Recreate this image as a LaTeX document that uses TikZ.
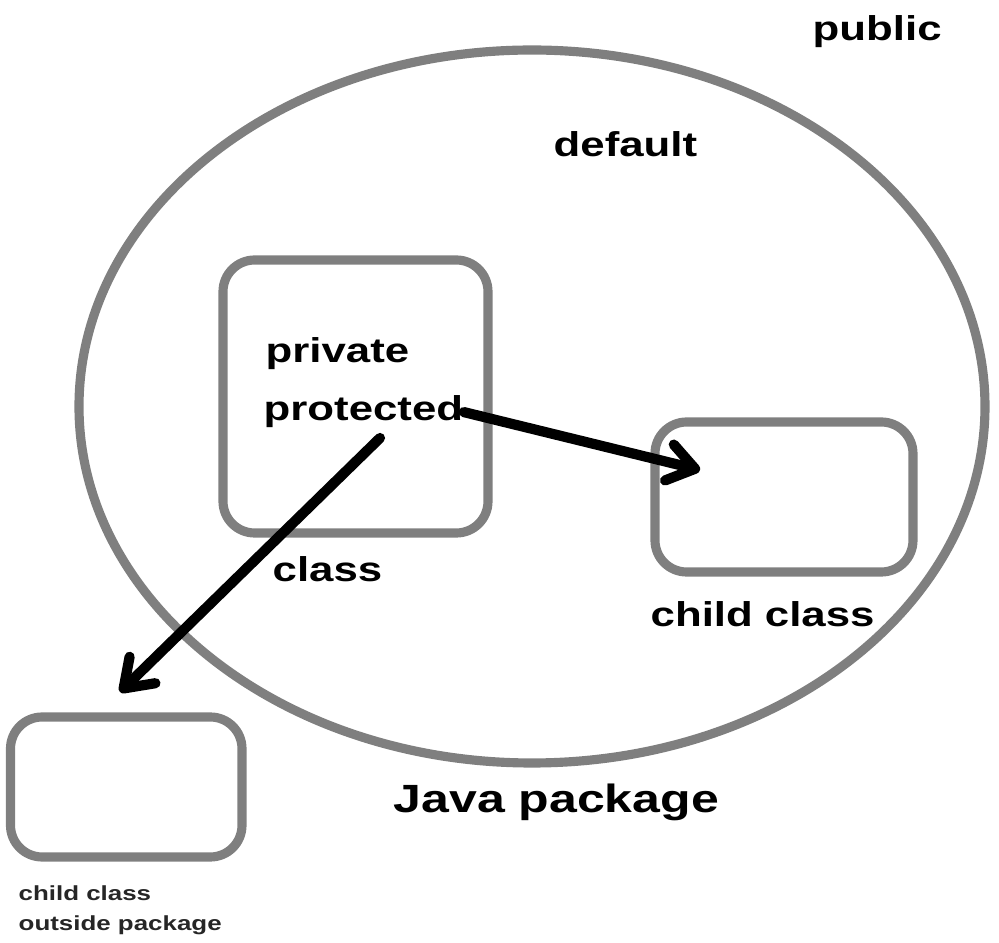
\documentclass[tikz,border=0pt]{standalone}
\usepackage{fontspec}
\setmainfont{Liberation Sans}
\usetikzlibrary{arrows.meta}
\newcommand{\wide}[1]{\scalebox{1.27}[1]{#1}}

\begin{document}
\begin{tikzpicture}[x=0.01cm,y=-0.01cm]
  \tikzset{box/.style = {draw=boxgray,line width=2.6pt,rounded corners=9pt}}
  \tikzset{lbl/.style = {anchor=base west,inner sep=0pt,font=\fontsize{9.8}{12}\selectfont\bfseries}}
  \tikzset{link/.style = {line width=2.9pt,line cap=round,-{Straight Barb[length=7.5pt,width=10.5pt,round]}}}
  \definecolor{boxgray}{RGB}{127,127,127}
	\useasboundingbox (0,0) rectangle (999,943);
	\draw[draw=boxgray,line width=2.6pt] (532,406.5) ellipse [x radius=453,y radius=356.5];
	\draw[box] (223,260) rectangle (488,533);
	\draw[box] (655,422) rectangle (913,572);
	\draw[box] (10.5,717) rectangle (242,857);
	\node[lbl] (pub) at (812,41) {\wide{public}};
	\node[lbl] (dflt) at (553,157) {\wide{default}};
	\node[lbl] (prv) at (265,363) {\wide{private}};
	\node[lbl] (prot) at (263,421) {\wide{protected}};
	\node[lbl] (cls) at (272,582) {\wide{class}};
	\node[lbl] (child) at (650,627) {\wide{child class}};
	\node[lbl,font=\fontsize{11.2}{14}\selectfont\bfseries] (pkg) at (393,813) {\wide{Java package}};
	\node[anchor=base west,inner sep=0pt,align=left,font=\fontsize{5.8}{8.8}\selectfont\bfseries,text=black!85] (outside) at (18,931) {\wide{child class}\\\wide{outside package}};
	\coordinate (inchild) at (700,470);
	\coordinate (inout) at (120,692);
	\coordinate (below) at (380,438);

       \foreach \from/\to in {prot.east/inchild, below/inout}
    \draw[link] (\from) -- (\to);
\end{tikzpicture}
\end{document}
